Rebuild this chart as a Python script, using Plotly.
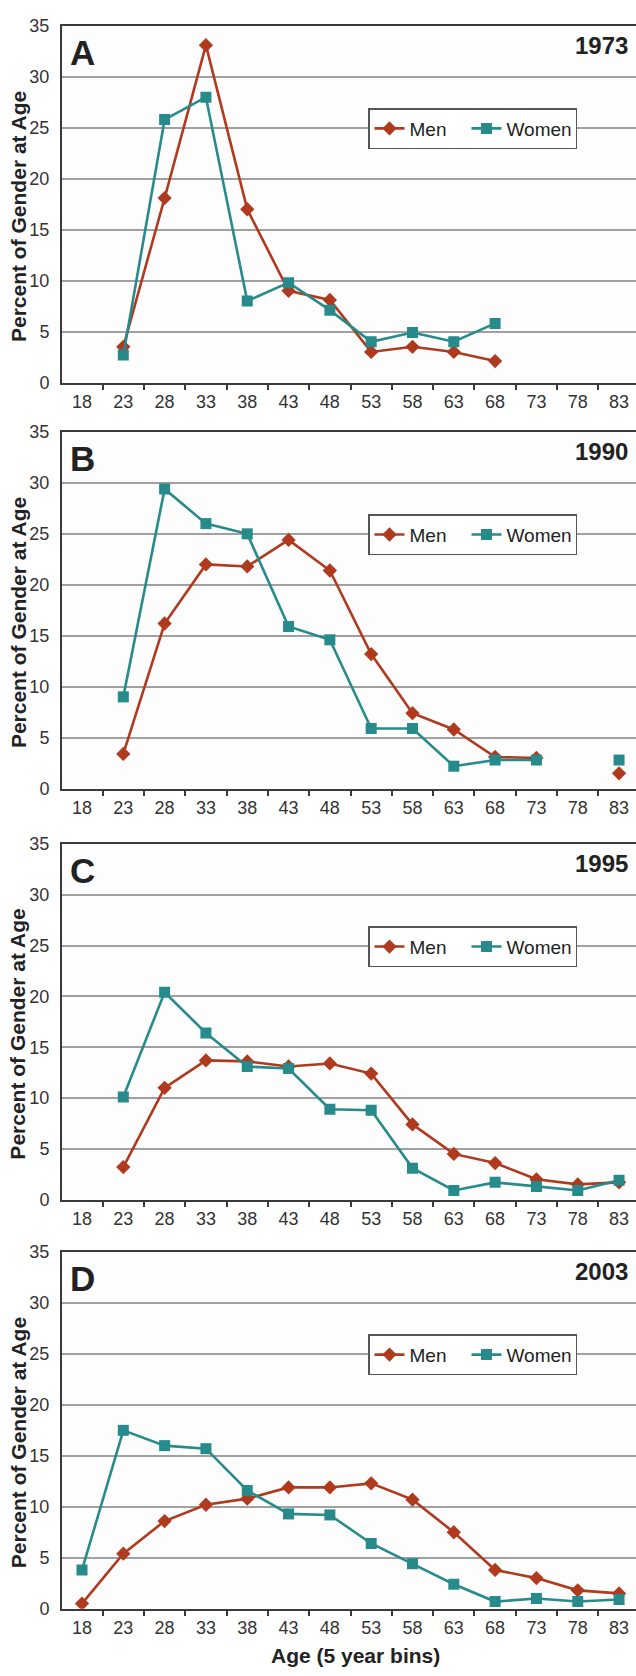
import plotly.graph_objects as go

# Age bins (5-year bins, labelled by the bin start)
ages = ["18", "23", "28", "33", "38", "43", "48", "53", "58", "63", "68", "73", "78", "83"]

panel_letters = ["A", "B", "C", "D"]
panel_years = ["1973", "1990", "1995", "2003"]

# Percent of each gender at each age bin
men_1973 = [None, 3.5, 18.1, 33.1, 17.0, 9.0, 8.1, 3.0, 3.5, 3.0, 2.1, None, None, None]
women_1973 = [None, 2.7, 25.8, 28.0, 8.0, 9.8, 7.1, 4.0, 4.9, 4.0, 5.8, None, None, None]

men_1990 = [None, 3.4, 16.2, 22.0, 21.8, 24.4, 21.4, 13.2, 7.4, 5.8, 3.1, 3.0, None, 1.5]
women_1990 = [None, 9.0, 29.4, 26.0, 25.0, 15.9, 14.6, 5.9, 5.9, 2.2, 2.8, 2.8, None, 2.8]

men_1995 = [None, 3.2, 11.0, 13.7, 13.6, 13.1, 13.4, 12.4, 7.4, 4.5, 3.6, 2.0, 1.5, 1.7]
women_1995 = [None, 10.1, 20.4, 16.4, 13.1, 12.9, 8.9, 8.8, 3.1, 0.9, 1.7, 1.3, 0.9, 1.9]

men_2003 = [0.5, 5.4, 8.6, 10.2, 10.8, 11.9, 11.9, 12.3, 10.7, 7.5, 3.8, 3.0, 1.8, 1.5]
women_2003 = [3.8, 17.5, 16.0, 15.7, 11.6, 9.3, 9.2, 6.4, 4.4, 2.4, 0.7, 1.0, 0.7, 0.9]

men_series = [men_1973, men_1990, men_1995, men_2003]
women_series = [women_1973, women_1990, women_1995, women_2003]

W, H = 636, 1676
MEN_COLOR = "#b03a1e"
WOMEN_COLOR = "#278a8b"
AXIS_COLOR = "#3a3a3a"
GRID_COLOR = "#a0a0a0"
TEXT_COLOR = "#222222"
FONT = "Liberation Sans, Arial, sans-serif"

# vertical pixel extent (top, bottom) of each panel's plotting area
panel_px = [(16, 377), (427, 788), (844, 1204), (1257, 1618)]
x_left_px = 62


def py(px):
    return 1 - px / H


fig = go.Figure()
layout = dict(
    width=W,
    height=H,
    margin=dict(l=0, r=0, t=0, b=0),
    paper_bgcolor="white",
    plot_bgcolor="#fdfdfd",
    font=dict(family=FONT, color=TEXT_COLOR),
    annotations=[],
    showlegend=True,
)

for i in range(4):
    sfx = "" if i == 0 else str(i + 1)
    top, bot = panel_px[i]
    legend_name = "legend" + sfx

    fig.add_trace(go.Scatter(
        x=ages, y=men_series[i], name="Men", mode="lines+markers",
        line=dict(color=MEN_COLOR, width=2.6),
        marker=dict(symbol="diamond", size=11, color=MEN_COLOR),
        xaxis="x" + sfx, yaxis="y" + sfx, legend=legend_name,
        legendwidth=52, connectgaps=False,
    ))
    fig.add_trace(go.Scatter(
        x=ages, y=women_series[i], name="Women", mode="lines+markers",
        line=dict(color=WOMEN_COLOR, width=2.6),
        marker=dict(symbol="square", size=11, color=WOMEN_COLOR),
        xaxis="x" + sfx, yaxis="y" + sfx, legend=legend_name,
        legendwidth=64, connectgaps=False,
    ))

    layout["xaxis" + sfx] = dict(
        domain=[x_left_px / W, 1],
        anchor="y" + sfx,
        type="category",
        categoryorder="array",
        categoryarray=ages,
        range=[-0.484, 13.41],
        showline=True, linecolor=AXIS_COLOR, linewidth=2, mirror=True,
        ticks="outside", tickson="boundaries", ticklen=5, tickwidth=1.5,
        tickcolor=AXIS_COLOR,
        showgrid=False, zeroline=False,
        tickfont=dict(size=18, color="#333333"),
        ticklabelstandoff=2,
        fixedrange=True,
    )
    layout["yaxis" + sfx] = dict(
        domain=[py(bot), py(top)],
        anchor="x" + sfx,
        range=[0, 35],
        tickmode="array",
        tickvals=[0, 5, 10, 15, 20, 25, 30, 35],
        showline=True, linecolor=AXIS_COLOR, linewidth=2,
        showgrid=True, gridcolor=GRID_COLOR, gridwidth=1.6,
        zeroline=False,
        ticks="",
        tickfont=dict(size=18, color="#333333"),
        ticklabelstandoff=7,
        fixedrange=True,
    )
    layout[legend_name] = dict(
        orientation="h",
        x=368 / W, xanchor="left",
        y=py(top + 104), yanchor="middle",
        bgcolor="white",
        bordercolor="#555555", borderwidth=1.5,
        font=dict(size=19, color=TEXT_COLOR),
        itemwidth=30,
    )

    # panel letter and year
    layout["annotations"].append(dict(
        text="<b>%s</b>" % panel_letters[i], xref="paper", yref="paper",
        x=68 / W, y=py(top + 27), xanchor="left", yanchor="middle",
        showarrow=False, font=dict(size=35, color=TEXT_COLOR),
    ))
    layout["annotations"].append(dict(
        text="<b>%s</b>" % panel_years[i], xref="paper", yref="paper",
        x=630 / W, y=py(top + 20), xanchor="right", yanchor="middle",
        showarrow=False, font=dict(size=24, color=TEXT_COLOR),
    ))
    # y-axis title
    layout["annotations"].append(dict(
        text="<b>Percent of Gender at Age</b>", xref="paper", yref="paper",
        x=18 / W, y=py((top + bot) / 2 + 13), xanchor="center", yanchor="middle",
        textangle=-90, showarrow=False, font=dict(size=21, color=TEXT_COLOR),
    ))

# x-axis title under the last panel
layout["annotations"].append(dict(
    text="<b>Age (5 year bins)</b>", xref="paper", yref="paper",
    x=355 / W, y=py(1665), xanchor="center", yanchor="middle",
    showarrow=False, font=dict(size=21, color=TEXT_COLOR),
))

fig.update_layout(**layout)
fig.write_html("out.html")
